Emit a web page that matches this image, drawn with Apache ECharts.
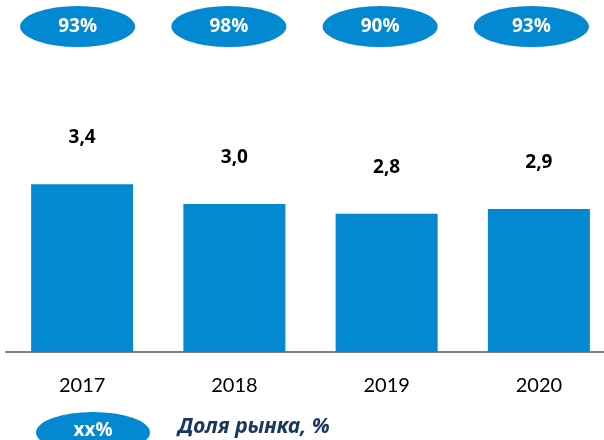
<!DOCTYPE html>
<html>
<head>
<meta charset="utf-8">
<script src="https://cdn.jsdelivr.net/npm/echarts@6/dist/echarts.min.js"></script>
<style>html,body{margin:0;padding:0;background:#fff;overflow:hidden;}#c{width:615px;height:440px;}</style>
</head>
<body>
<div id="c"></div>
<script>
const years = ['2017', '2018', '2019', '2020'];
const volumes = [3.4, 3.0, 2.8, 2.9];
const shares = [93, 98, 90, 93];
const legendLabel = 'Доля рынка, %';
const legendSample = 'xx%';

const BLUE = '#0388D2';
const chart = echarts.init(document.getElementById('c'), null, {renderer: 'canvas'});
chart.setOption({
  animation: false,
  backgroundColor: '#ffffff',
  grid: [
    {left: 6, right: 0, top: 56, bottom: 88},
    {left: 2, right: 8, top: 6, height: 41}
  ],
  xAxis: [
    {type: 'category', gridIndex: 0, data: years,
     axisLine: {lineStyle: {color: '#808080', width: 2}},
     axisTick: {show: false},
     axisLabel: {color: '#000', fontFamily: 'Lato', fontSize: 20, margin: 24}},
    {type: 'category', gridIndex: 1, data: years, show: false}
  ],
  yAxis: [
    {type: 'value', gridIndex: 0, min: 0, max: 6, show: false, splitLine: {show: false}},
    {type: 'category', gridIndex: 1, data: ['share'], show: false}
  ],
  series: [
    {type: 'bar', xAxisIndex: 0, yAxisIndex: 0, data: volumes, barWidth: 102,
     itemStyle: {color: BLUE},
     label: {show: true, position: 'top', distance: 37, color: '#000', fontFamily: 'Open Sans', fontWeight: 'bold', fontSize: 19,
       formatter: p => p.value.toFixed(1).replace('.', ',')}},
    {type: 'scatter', xAxisIndex: 1, yAxisIndex: 1,
     data: shares.map((s, i) => [years[i], 'share', s]),
     symbol: 'circle', symbolSize: [115, 41],
     itemStyle: {color: BLUE, opacity: 1},
     label: {show: true, position: 'inside', color: '#fff', fontFamily: 'Open Sans', fontWeight: 'bold', fontSize: 19,
       formatter: p => p.value[2] + '%'}}
  ],
  graphic: [
    {type: 'circle', x: 93, y: 432.5, scaleX: 57 / 20.5, shape: {cx: 0, cy: 0, r: 20.5}, style: {fill: BLUE}},
    {type: 'text', x: 93, y: 431, style: {text: legendSample, fill: '#fff', font: 'bold 19px "Open Sans"', textAlign: 'center', textVerticalAlign: 'middle'}},
    {type: 'text', x: 178, y: 427, style: {text: legendLabel, fill: '#17375E', font: 'italic bold 21px "Noto Sans"', textAlign: 'left', textVerticalAlign: 'middle'}}
  ]
});
</script>
</body>
</html>
